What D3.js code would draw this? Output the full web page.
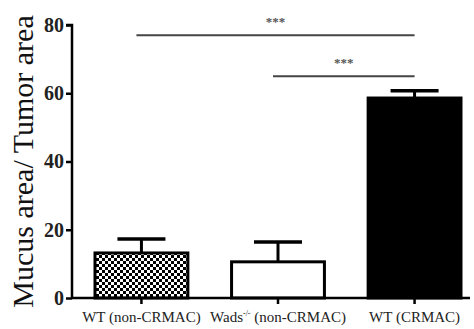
<!DOCTYPE html>
<html><head><meta charset="utf-8">
<script src="https://cdn.jsdelivr.net/npm/d3@7"></script>
<style>html,body{margin:0;padding:0;background:#fff;}svg{display:block;}</style>
</head><body>
<svg id="c" width="474" height="329"></svg>
<script>
const categories = ["WT (non-CRMAC)", "Wads-/- (non-CRMAC)", "WT (CRMAC)"];
const values = [13.2, 10.6, 58.6];
const errors = [4.1, 5.8, 2.1];
const fills = ["pattern", "white", "black"];
const yTicks = [0, 20, 40, 60, 80];
const sigPairs = [[0, 2, "***", 77], [1, 2, "***", 65]];

const svg = d3.select("#c");
const m = {left: 72, top: 25, right: 4, bottom: 31};
const W = 474, H = 329;
const x = d3.scaleBand().domain(d3.range(categories.length)).range([95, 461]).paddingInner(0.32).paddingOuter(0);
const y = d3.scaleLinear().domain([0, 80]).range([H - m.bottom, m.top]);

const defs = svg.append("defs");
const pat = defs.append("pattern").attr("id", "chk").attr("patternUnits", "userSpaceOnUse").attr("width", 6).attr("height", 6);
pat.append("rect").attr("width", 6).attr("height", 6).attr("fill", "#fff");
pat.append("rect").attr("x", 0).attr("y", 0).attr("width", 3).attr("height", 3).attr("fill", "#000");
pat.append("rect").attr("x", 3).attr("y", 3).attr("width", 3).attr("height", 3).attr("fill", "#000");

const serif = "Liberation Serif";

// bars
svg.selectAll("rect.bar").data(values).join("rect").attr("class", "bar")
  .attr("x", (d, i) => x(i)).attr("width", x.bandwidth())
  .attr("y", d => y(d)).attr("height", d => y(0) - y(d))
  .attr("fill", (d, i) => fills[i] === "pattern" ? "url(#chk)" : fills[i])
  .attr("stroke", "#000").attr("stroke-width", 3);

// error bars
values.forEach((v, i) => {
  const cx = x(i) + x.bandwidth() / 2;
  svg.append("line").attr("x1", cx).attr("x2", cx).attr("y1", y(v)).attr("y2", y(v + errors[i])).attr("stroke", "#000").attr("stroke-width", 3);
  svg.append("line").attr("x1", cx - 24).attr("x2", cx + 24).attr("y1", y(v + errors[i])).attr("y2", y(v + errors[i])).attr("stroke", "#000").attr("stroke-width", 3.5);
});

// axes
const ya = svg.append("g").attr("transform", `translate(${m.left},0)`)
  .call(d3.axisLeft(y).tickValues(yTicks).tickSize(6).tickPadding(2));
ya.attr("font-family", null);
ya.select(".domain").attr("stroke-width", 2.5).attr("d", `M-6,${y(80)}H0V${y(0)}`);
ya.selectAll(".tick line").attr("stroke-width", 2.5);
ya.selectAll(".tick text").style("font-family", serif).attr("font-size", 20).attr("font-weight", "bold").attr("fill", "#222");

const xa = svg.append("g").attr("transform", `translate(0,${y(0)})`)
  .call(d3.axisBottom(x).tickSize(6).tickPadding(4).tickFormat(""));
xa.attr("font-family", null);
xa.select(".domain").attr("stroke-width", 2.5).attr("d", `M${m.left},0H${W - m.right}`);
xa.selectAll(".tick line").attr("stroke-width", 2.5);
xa.selectAll(".tick").each(function(d, i) {
  const t = d3.select(this).append("text").attr("y", 24).attr("text-anchor", "middle")
    .style("font-family", serif).attr("font-size", 15).attr("fill", "#222");
  if (i === 1) {
    t.append("tspan").text("Wads");
    t.append("tspan").text("-/-").attr("font-size", 8).attr("dy", -6);
    t.append("tspan").text(" (non-CRMAC)").attr("dy", 6);
  } else t.text(categories[i]);
});

// y label
svg.append("text").attr("transform", `translate(33,${(y(80) + y(0)) / 2}) rotate(-90)`)
  .attr("text-anchor", "middle").style("font-family", serif).attr("font-size", 30).attr("fill", "#111")
  .text("Mucus area/ Tumor area");

// significance
sigPairs.forEach(([a, b, s, lv]) => {
  const x1 = x(a) + x.bandwidth() / 2 - 5, x2 = x(b) + x.bandwidth() / 2;
  svg.append("line").attr("x1", x1).attr("x2", x2).attr("y1", y(lv)).attr("y2", y(lv)).attr("stroke", "#444").attr("stroke-width", 2);
  svg.append("text").attr("x", (x1 + x2) / 2).attr("y", y(lv) - 9).attr("text-anchor", "middle")
    .style("font-family", serif).attr("font-size", 13).attr("font-weight", "bold").attr("fill", "#555").text(s);
});
</script>
</body></html>
